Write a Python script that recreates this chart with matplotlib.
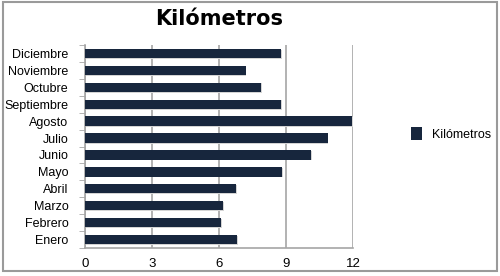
import numpy as np
import matplotlib
matplotlib.use('Agg')
from matplotlib import pyplot as plt
from matplotlib.patches import Rectangle

# datos
meses = ['Enero', 'Febrero', 'Marzo', 'Abril', 'Mayo', 'Junio',
         'Julio', 'Agosto', 'Septiembre', 'Octubre', 'Noviembre', 'Diciembre']
kilometros = [6.79, 6.09, 6.19, 6.76, 8.84, 10.12, 10.86, 11.94, 8.78, 7.88, 7.19, 8.78]
xticks = [0, 3, 6, 9, 12]

color_barra = '#17263d'
color_linea = '#a6a6a6'

plt.rcParams['font.family'] = ['Liberation Sans', 'DejaVu Sans']

fig = plt.figure(figsize=(5.0, 2.76), dpi=100)
ax = fig.add_axes([0.17, 0.1014, 0.536, 0.7356])

y = np.arange(len(meses))
# sombra ligera de las barras
ax.barh(y - 0.05, kilometros, height=0.55, left=0.04, color='#d4d4d4', zorder=2)
ax.barh(y, kilometros, height=0.55, color=color_barra, zorder=3, label='Kilómetros')

ax.set_xlim(0, 12)
ax.set_ylim(-0.5, len(meses) - 0.5)
ax.set_xticks(xticks)
ax.set_xticklabels([str(t) for t in xticks], fontsize=9.5)
ax.set_yticks(y)
ax.set_yticklabels(meses, fontsize=9)
ax.set_yticks(np.arange(-0.5, len(meses), 1), minor=True)
ax.tick_params(axis='y', which='major', length=0, pad=12)
ax.tick_params(axis='y', which='minor', length=4, color=color_linea, direction='out')
ax.tick_params(axis='x', length=0, pad=7)

for s in ['top', 'right']:
    ax.spines[s].set_visible(False)
for s in ['left', 'bottom']:
    ax.spines[s].set_color(color_linea)
    ax.spines[s].set_linewidth(1.2)

ax.xaxis.grid(True, color=color_linea, linewidth=1.2)
ax.set_axisbelow(True)

fig.text(0.438, 0.93, 'Kilómetros', ha='center', va='center',
         fontsize=15, fontweight='bold', family='DejaVu Sans')

leg = fig.legend(loc='center left', bbox_to_anchor=(0.822, 0.514), frameon=False,
                 fontsize=9, handlelength=0.85, handleheight=1.2, handletextpad=0.8,
                 borderpad=0, borderaxespad=0)

# marco de la figura
fig.patches.append(Rectangle((0.006, 0.018), 0.988, 0.976, transform=fig.transFigure,
                             fill=False, edgecolor='#9a9a9a', linewidth=1.5))

fig.savefig('out.png', dpi=100)
